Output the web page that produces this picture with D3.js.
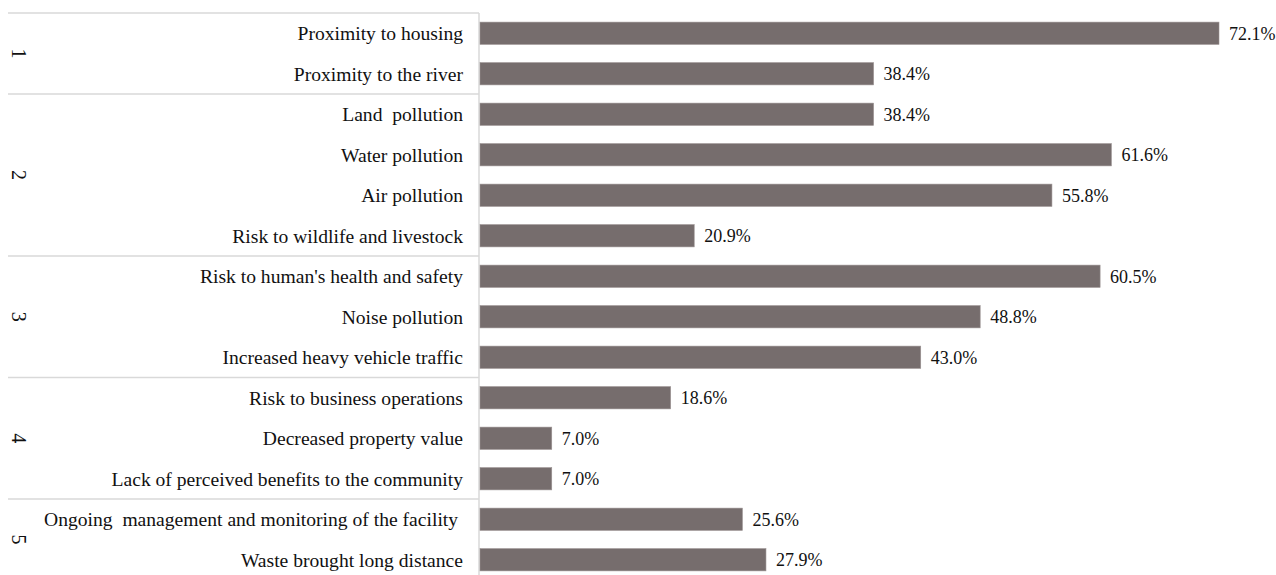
<!DOCTYPE html>
<html><head><meta charset="utf-8">
<script src="https://cdn.jsdelivr.net/npm/d3@7"></script>
<style>body{margin:0;background:#fff}svg{display:block}</style>
</head><body>
<svg id="c" width="1276" height="575"></svg>
<script>
const categories = ["Proximity to housing","Proximity to the river","Land  pollution","Water pollution","Air pollution","Risk to wildlife and livestock","Risk to human's health and safety","Noise pollution","Increased heavy vehicle traffic","Risk to business operations","Decreased property value","Lack of perceived benefits to the community","Ongoing  management and monitoring of the facility ","Waste brought long distance"];
const values = [72.1,38.4,38.4,61.6,55.8,20.9,60.5,48.8,43.0,18.6,7.0,7.0,25.6,27.9];
const groups = ["1","1","2","2","2","2","3","3","3","4","4","4","5","5"];
const groupNames = ["1","2","3","4","5"];

(function(){
const svg = d3.select("#c");
const leftX = 480, topY = 13, step = 40.5;
const x = d3.scaleLinear().domain([0, 72.1]).range([leftX, 1219]);
const y = d3.scaleBand().domain(d3.range(categories.length)).range([topY, topY + step*categories.length]).paddingInner(0.45).paddingOuter(0.225);
const font = "'Liberation Serif', serif";

const gStart = groupNames.map(g => groups.indexOf(g));
const gEnd = groupNames.map(g => groups.lastIndexOf(g));
svg.selectAll("line.sep").data(gStart).join("line")
  .attr("x1", 8).attr("x2", leftX - 1)
  .attr("y1", i => topY + i*step).attr("y2", i => topY + i*step)
  .attr("stroke", "#d9d9d9").attr("stroke-width", 1.5);
svg.append("line").attr("x1", leftX-1).attr("x2", leftX-1).attr("y1", topY).attr("y2", 575)
  .attr("stroke", "#d9d9d9").attr("stroke-width", 1.5);

svg.selectAll("rect.bar").data(values).join("rect")
  .attr("x", x(0)).attr("y", (d,i) => y(i))
  .attr("width", d => x(d) - x(0)).attr("height", y.bandwidth())
  .attr("fill", "#766d6d").attr("stroke", "#9a9292").attr("stroke-width", 0.6);

svg.selectAll("text.cat").data(categories).join("text")
  .attr("x", 463).attr("y", (d,i) => y(i) + y.bandwidth()/2)
  .attr("dy", "0.35em").attr("text-anchor", "end")
  .attr("font-family", font).attr("font-size", 19.6).attr("fill", "#111")
  .style("white-space", "pre").text(d => d);

svg.selectAll("text.val").data(values).join("text")
  .attr("x", d => x(d) + 10).attr("y", (d,i) => y(i) + y.bandwidth()/2)
  .attr("dy", "0.35em")
  .attr("font-family", font).attr("font-size", 18).attr("fill", "#111")
  .text(d => d.toFixed(1) + "%");

svg.selectAll("text.grp").data(groupNames).join("text")
  .attr("transform", (g,k) => {
    const cy = topY + (gStart[k] + gEnd[k] + 1)/2*step;
    return `translate(19,${cy}) rotate(90)`;
  })
  .attr("text-anchor", "middle").attr("dy", "0.35em")
  .attr("font-family", font).attr("font-size", 20).attr("fill", "#111")
  .text(d => d);
})();
</script>
</body></html>
